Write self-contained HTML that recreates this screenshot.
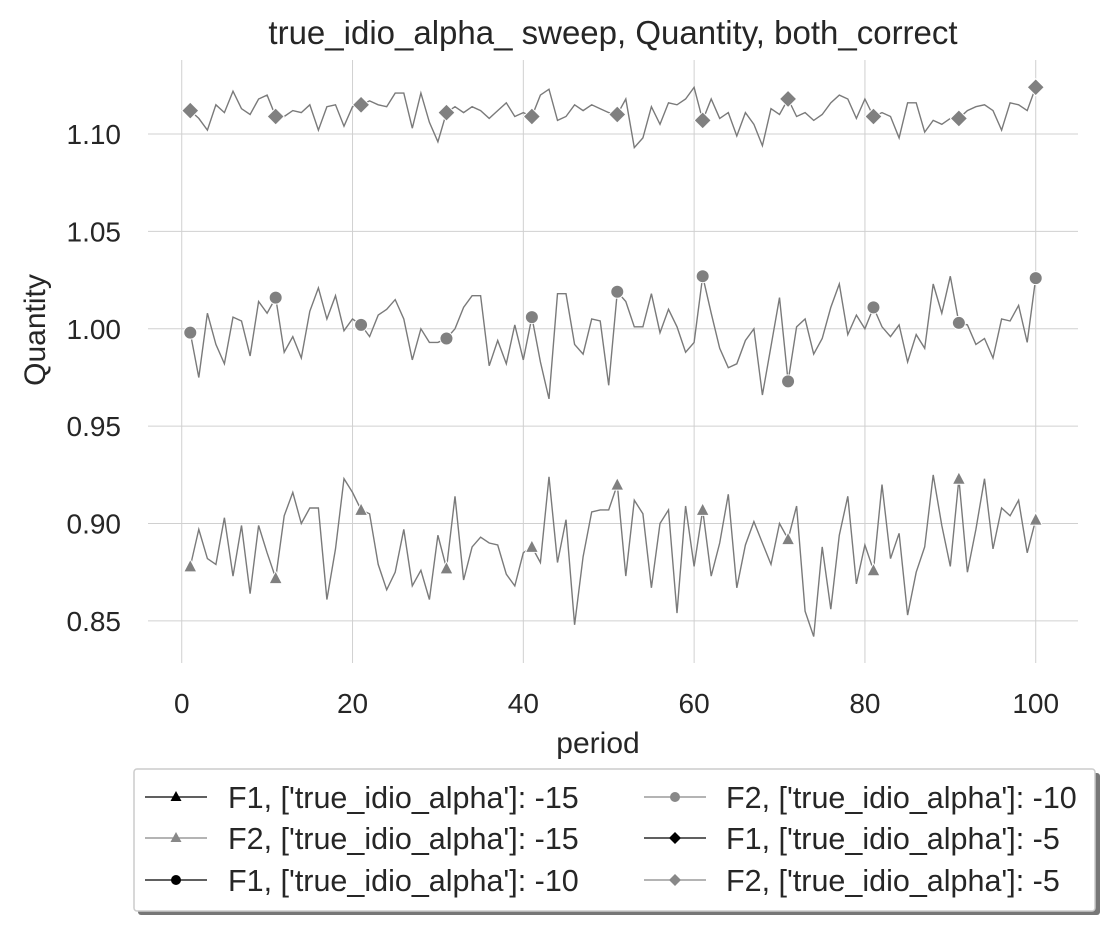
<!DOCTYPE html>
<html><head><meta charset="utf-8"><style>
html,body{margin:0;padding:0;background:#fff;}
svg text{font-family:"Liberation Sans",Arial,sans-serif;fill:#262626;}
</style></head><body>
<svg id="chart" width="1113" height="929" viewBox="0 0 1113 929" xmlns="http://www.w3.org/2000/svg">
<text x="613" y="44" font-size="33" text-anchor="middle">true_idio_alpha_ sweep, Quantity, both_correct</text>
<g id="grid"></g>
<g id="series"></g>
<g id="ticks"></g>
<text x="598" y="753" font-size="30" text-anchor="middle">period</text>
<text transform="translate(45,330) rotate(-90)" font-size="30" text-anchor="middle">Quantity</text>
<g>
<rect x="138" y="773" width="962" height="142" fill="#777" rx="3"/>
<rect x="134" y="769" width="961" height="142" fill="#fff" stroke="#ccc" stroke-width="1.5" rx="3"/>
<g><line x1="145" y1="797" x2="207" y2="797" stroke="#000" stroke-width="1.3"/><polygon points="176,791 170.5,801 181.5,801" fill="#000"/><text x="228" y="808" font-size="30.5">F1, ['true_idio_alpha']: -15</text></g>
<g><line x1="145" y1="838" x2="207" y2="838" stroke="#888" stroke-width="1.3"/><polygon points="176,832 170.5,842 181.5,842" fill="#888"/><text x="228" y="849" font-size="30.5">F2, ['true_idio_alpha']: -15</text></g>
<g><line x1="145" y1="880" x2="207" y2="880" stroke="#000" stroke-width="1.3"/><circle cx="176" cy="880" r="5" fill="#000"/><text x="228" y="891" font-size="30.5">F1, ['true_idio_alpha']: -10</text></g>
<g><line x1="644" y1="797" x2="706" y2="797" stroke="#888" stroke-width="1.3"/><circle cx="675" cy="797" r="5" fill="#888"/><text x="726" y="808" font-size="30.5">F2, ['true_idio_alpha']: -10</text></g>
<g><line x1="644" y1="838" x2="706" y2="838" stroke="#000" stroke-width="1.3"/><polygon points="675,832 681,838 675,844 669,838" fill="#000"/><text x="726" y="849" font-size="30.5">F1, ['true_idio_alpha']: -5</text></g>
<g><line x1="644" y1="880" x2="706" y2="880" stroke="#888" stroke-width="1.3"/><polygon points="675,874 681,880 675,886 669,880" fill="#888"/><text x="726" y="891" font-size="30.5">F2, ['true_idio_alpha']: -5</text></g>
</g>
</svg>
<script>
const seriesA15 = [0.878,0.897,0.882,0.879,0.903,0.873,0.899,0.864,0.899,0.885,0.872,0.904,0.916,0.900,0.908,0.908,0.861,0.887,0.923,0.916,0.907,0.905,0.879,0.866,0.875,0.897,0.868,0.876,0.861,0.894,0.877,0.914,0.871,0.888,0.893,0.890,0.889,0.874,0.868,0.885,0.888,0.880,0.924,0.880,0.902,0.848,0.883,0.906,0.907,0.907,0.920,0.873,0.912,0.905,0.867,0.900,0.907,0.854,0.909,0.878,0.907,0.873,0.890,0.915,0.867,0.889,0.901,0.890,0.879,0.900,0.892,0.909,0.855,0.842,0.888,0.856,0.894,0.914,0.869,0.889,0.876,0.920,0.882,0.895,0.853,0.875,0.888,0.925,0.899,0.878,0.923,0.875,0.897,0.923,0.887,0.908,0.904,0.912,0.885,0.902];
const seriesA10 = [0.998,0.975,1.008,0.992,0.982,1.006,1.004,0.986,1.014,1.008,1.016,0.988,0.996,0.985,1.009,1.021,1.005,1.017,0.999,1.005,1.002,0.996,1.007,1.010,1.015,1.005,0.984,1.000,0.993,0.993,0.995,1.000,1.011,1.017,1.017,0.981,0.994,0.982,1.002,0.984,1.006,0.983,0.964,1.018,1.018,0.992,0.987,1.005,1.004,0.971,1.019,1.014,1.001,1.001,1.018,0.998,1.010,1.001,0.988,0.993,1.027,1.008,0.990,0.980,0.982,0.994,1.000,0.966,0.991,1.016,0.973,1.001,1.005,0.987,0.995,1.011,1.023,0.997,1.007,1.000,1.011,1.001,0.996,1.002,0.983,0.997,0.990,1.023,1.008,1.027,1.003,1.002,0.992,0.995,0.985,1.005,1.004,1.012,0.993,1.026];
const seriesA5 = [1.112,1.108,1.102,1.115,1.111,1.122,1.113,1.110,1.118,1.120,1.109,1.109,1.112,1.111,1.115,1.102,1.114,1.115,1.104,1.114,1.115,1.117,1.115,1.114,1.121,1.121,1.103,1.121,1.106,1.096,1.111,1.114,1.111,1.114,1.112,1.108,1.112,1.116,1.109,1.111,1.109,1.120,1.123,1.107,1.109,1.115,1.112,1.115,1.113,1.111,1.110,1.118,1.093,1.098,1.114,1.105,1.116,1.115,1.118,1.124,1.107,1.118,1.108,1.111,1.099,1.111,1.105,1.094,1.113,1.110,1.118,1.109,1.111,1.107,1.110,1.116,1.120,1.118,1.108,1.118,1.109,1.111,1.109,1.098,1.116,1.116,1.101,1.107,1.105,1.108,1.108,1.112,1.114,1.115,1.112,1.102,1.116,1.115,1.112,1.124];
const markerPeriods = [1,11,21,31,41,51,61,71,81,91,100];
const xTicks = [0,20,40,60,80,100];
const yTicks = [0.85,0.90,0.95,1.00,1.05,1.10];
const yTickLabels = ["0.85","0.90","0.95","1.00","1.05","1.10"];

const L=148,R=1078,T=60,B=663, XMIN=-3.95,XMAX=104.95, YMIN=0.8284,YMAX=1.1380;
const xs=v=>L+(v-XMIN)/(XMAX-XMIN)*(R-L);
const ys=v=>B-(v-YMIN)/(YMAX-YMIN)*(B-T);
const NS="http://www.w3.org/2000/svg";
function mk(tag,attrs,parent){const e=document.createElementNS(NS,tag);for(const k in attrs)e.setAttribute(k,attrs[k]);parent.appendChild(e);return e;}
const grid=document.getElementById('grid'),ticks=document.getElementById('ticks'),ser=document.getElementById('series');
xTicks.forEach(t=>{
  const l=mk('line',{x1:xs(t),x2:xs(t),y1:T,y2:B,stroke:'#d0d0d0','stroke-width':1},grid);
  
  
  const tx=mk('text',{x:xs(t),y:713,'font-size':28,'text-anchor':'middle'},ticks);tx.textContent=t;
  
  
});
yTicks.forEach((t,i)=>{
  const l=mk('line',{x1:L,x2:R,y1:ys(t),y2:ys(t),stroke:'#d0d0d0','stroke-width':1},grid);
  
  
  const tx=mk('text',{x:121,y:ys(t)+10,'font-size':28,'text-anchor':'end'},ticks);tx.textContent=yTickLabels[i];
  
  
});
function draw(data,shape,name){
  const g=mk('g',{},ser);
  
  
  const pts=data.map((v,i)=>xs(i+1).toFixed(1)+','+ys(v).toFixed(1)).join(' ');
  const pl=mk('polyline',{points:pts,fill:'none',stroke:'#7a7a7a','stroke-width':1.4,'stroke-linejoin':'miter'},g);
  
  
  markerPeriods.forEach(p=>{
    const cx=xs(p),cy=ys(data[p-1]);let m;
    if(shape==='tri') m=mk('polygon',{points:`${cx},${cy-7} ${cx-6.5},${cy+5.5} ${cx+6.5},${cy+5.5}`,fill:'#808080',stroke:'#fff','stroke-width':1},g);
    else if(shape==='circ') m=mk('circle',{cx:cx,cy:cy,r:6.5,fill:'#808080',stroke:'#fff','stroke-width':1},g);
    else m=mk('polygon',{points:`${cx},${cy-8.5} ${cx+8.5},${cy} ${cx},${cy+8.5} ${cx-8.5},${cy}`,fill:'#808080',stroke:'#fff','stroke-width':1},g);
    
    
  });
}
draw(seriesA15,'tri','series-f2-alpha-15');
draw(seriesA10,'circ','series-f2-alpha-10');
draw(seriesA5,'dia','series-f2-alpha-5');
</script>
</body></html>
